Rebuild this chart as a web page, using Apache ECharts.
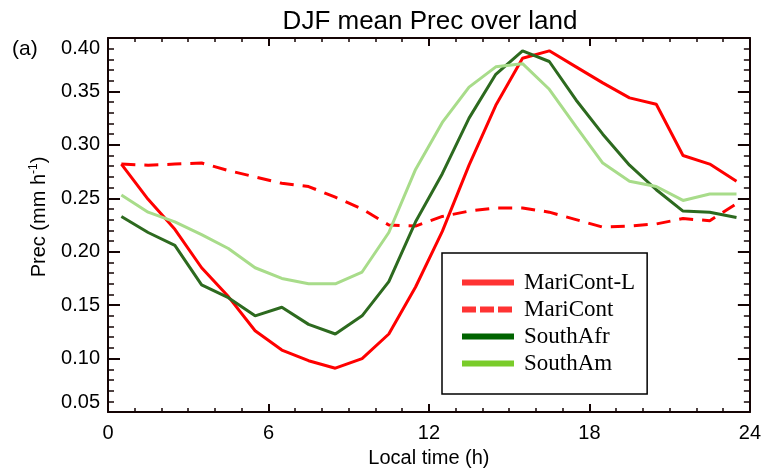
<!DOCTYPE html>
<html><head><meta charset="utf-8">
<script src="https://cdn.jsdelivr.net/npm/echarts@6/dist/echarts.min.js"></script>
<style>html,body{margin:0;padding:0;background:#fff}#c{width:764px;height:473px}</style>
</head><body><div id="c"></div>
<script>
// Local time (h) of each value
const hours = [0.5,1.5,2.5,3.5,4.5,5.5,6.5,7.5,8.5,9.5,10.5,11.5,12.5,13.5,14.5,15.5,16.5,17.5,18.5,19.5,20.5,21.5,22.5,23.5];
// Prec (mm h-1)
const mariContL = [0.282,0.249,0.221,0.185,0.158,0.126,0.108,0.098,0.091,0.100,0.123,0.167,0.219,0.281,0.337,0.381,0.388,0.373,0.358,0.344,0.338,0.290,0.282,0.266];
const mariCont  = [0.282,0.281,0.282,0.283,0.276,0.270,0.264,0.261,0.251,0.240,0.225,0.224,0.233,0.238,0.241,0.241,0.237,0.230,0.223,0.224,0.226,0.231,0.229,0.245];
const southAfr  = [0.233,0.218,0.206,0.169,0.157,0.140,0.148,0.132,0.123,0.140,0.172,0.228,0.273,0.325,0.366,0.388,0.378,0.342,0.310,0.281,0.258,0.238,0.237,0.232];
const southAm   = [0.253,0.237,0.228,0.216,0.203,0.185,0.175,0.170,0.170,0.181,0.218,0.277,0.321,0.354,0.373,0.376,0.352,0.317,0.283,0.266,0.261,0.248,0.254,0.254];
const seriesNames = ['MariCont-L','MariCont','SouthAfr','SouthAm'];
const xMin = 0, xMax = 24, xStep = 6;
const yMin = 0.05, yMax = 0.40, yStep = 0.05;

const font = 'Liberation Sans';
const axisCol = '#140404';
function pairs(arr){ return hours.map((h,i)=>[h, arr[i]]); }

const chart = echarts.init(document.getElementById('c'), null, {renderer:'canvas'});
const xCommon = {
  type:'value', min:xMin, max:xMax, interval:xStep,
  axisLine:{show:true, onZero:false, lineStyle:{color:axisCol, width:2}},
  axisTick:{show:true, inside:true, length:8, lineStyle:{color:axisCol, width:2}},
  minorTick:{show:true, splitNumber:6, length:4, lineStyle:{color:axisCol, width:1.5}},
  splitLine:{show:false}
};
const yCommon = {
  type:'value', min:yMin, max:yMax, interval:yStep,
  axisLine:{show:true, onZero:false, lineStyle:{color:axisCol, width:2}},
  axisTick:{show:true, inside:true, length:12, lineStyle:{color:axisCol, width:2}},
  minorTick:{show:true, splitNumber:5, length:6, lineStyle:{color:axisCol, width:1.5}},
  splitLine:{show:false}
};
const hide = {opacity:0};
const option = {
  animation:false,
  backgroundColor:'#fff',
  title:[
    {text:'DJF mean Prec over land', left:425, textAlign:'center', top:4, textStyle:{fontFamily:font, fontSize:26, fontWeight:'normal', color:'#000'}},
    {text:'(a)', left:7, top:34, textStyle:{fontFamily:font, fontSize:21, fontWeight:'normal', color:'#000'}}
  ],
  grid:{left:108, right:13, top:38, bottom:60, containLabel:false},
  xAxis:[
    Object.assign({}, xCommon, {position:'bottom',
      name:'Local time (h)', nameLocation:'middle', nameGap:36,
      nameTextStyle:{fontFamily:font, fontSize:20, color:'#000'},
      axisLabel:{show:true, margin:11, fontFamily:font, fontSize:20, color:'#000'}}),
    Object.assign({}, xCommon, {position:'top', axisLabel:{show:false}})
  ],
  yAxis:[
    Object.assign({}, yCommon, {position:'left',
      name:'{a|Prec (mm h}{s|-1}{a|)}', nameLocation:'middle', nameGap:58, nameRotate:90,
      nameTextStyle:{padding:[0,0,0,16], rich:{
        a:{fontFamily:font, fontSize:20, color:'#000', lineHeight:22},
        s:{fontFamily:font, fontSize:12, color:'#000', verticalAlign:'top', lineHeight:12}
      }},
      axisLabel:{show:true, margin:8, fontFamily:font, fontSize:20, color:'#000',
        formatter:v=>v.toFixed(2), verticalAlignMinLabel:'bottom', verticalAlignMaxLabel:'top'}}),
    Object.assign({}, yCommon, {position:'right', axisLabel:{show:false}})
  ],
  legend:{
    orient:'vertical', left:442, top:253, padding:[18,12,19,17], itemGap:4,
    itemWidth:52, itemHeight:14, borderColor:'#000', borderWidth:1.5,
    textStyle:{fontFamily:'Liberation Serif', fontSize:23, color:'#000', padding:[0,0,0,5]},
    data:[
      {name:seriesNames[0], itemStyle:hide, lineStyle:{color:'#ff3333', width:6, type:'solid'}},
      {name:seriesNames[1], itemStyle:hide, lineStyle:{color:'#ff3333', width:6, type:[14,4]}},
      {name:seriesNames[2], itemStyle:hide, lineStyle:{color:'#006400', width:6, type:'solid'}},
      {name:seriesNames[3], itemStyle:hide, lineStyle:{color:'#7acc2a', width:6, type:'solid'}}
    ]
  },
  series:[
    {name:seriesNames[0], type:'line', data:pairs(mariContL), symbol:'none', lineStyle:{color:'#ff0000', width:3}, itemStyle:{color:'#ff0000'}},
    {name:seriesNames[1], type:'line', data:pairs(mariCont), symbol:'none', lineStyle:{color:'#ff0000', width:3, type:[14,9]}, itemStyle:{color:'#ff0000'}},
    {name:seriesNames[2], type:'line', data:pairs(southAfr), symbol:'none', lineStyle:{color:'#2d6a1f', width:3}, itemStyle:{color:'#2d6a1f'}},
    {name:seriesNames[3], type:'line', data:pairs(southAm), symbol:'none', lineStyle:{color:'#a8dc8a', width:3}, itemStyle:{color:'#a8dc8a'}}
  ]
};
chart.setOption(option);
</script></body></html>
